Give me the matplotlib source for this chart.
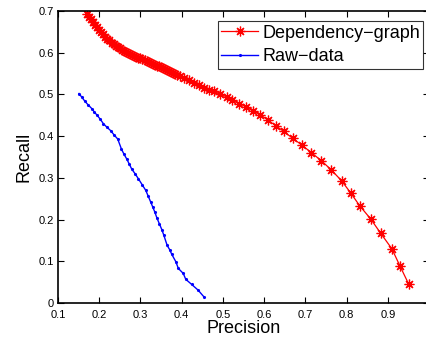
import matplotlib
matplotlib.use("Agg")
import matplotlib.pyplot as plt

# Dependency-graph curve (precision, recall)
dep_precision = [
    0.170, 0.175, 0.180, 0.185, 0.190, 0.195, 0.200, 0.205, 0.210, 0.215,
    0.220, 0.225, 0.230, 0.235, 0.240, 0.245, 0.250, 0.255, 0.260, 0.265,
    0.270, 0.275, 0.280, 0.285, 0.290, 0.295, 0.300, 0.305, 0.310, 0.315,
    0.320, 0.325, 0.330, 0.335, 0.340, 0.345, 0.350, 0.355, 0.360, 0.365,
    0.370, 0.375, 0.380, 0.385, 0.390, 0.395,
    0.405, 0.418, 0.430, 0.442, 0.454, 0.467, 0.479, 0.493, 0.509, 0.523,
    0.540, 0.556, 0.573, 0.591, 0.610, 0.628, 0.648, 0.669, 0.691, 0.715,
    0.739, 0.763, 0.788, 0.810, 0.832, 0.859, 0.883, 0.910, 0.930, 0.951,
]
dep_recall = [
    0.692, 0.686, 0.680, 0.673, 0.667, 0.661, 0.655, 0.649, 0.644, 0.638,
    0.633, 0.629, 0.624, 0.620, 0.616, 0.613, 0.610, 0.607, 0.604, 0.601,
    0.599, 0.596, 0.594, 0.592, 0.590, 0.588, 0.586, 0.584, 0.582, 0.579,
    0.577, 0.575, 0.573, 0.571, 0.569, 0.567, 0.565, 0.562, 0.560, 0.558,
    0.555, 0.553, 0.551, 0.548, 0.546, 0.543,
    0.540, 0.534, 0.528, 0.522, 0.516, 0.511, 0.507, 0.500, 0.494, 0.486,
    0.478, 0.470, 0.461, 0.451, 0.438, 0.425, 0.411, 0.395, 0.379, 0.360,
    0.341, 0.319, 0.293, 0.264, 0.233, 0.201, 0.167, 0.130, 0.088, 0.045,
]

# Raw-data curve (precision, recall)
raw_precision = [
    0.151, 0.158, 0.165, 0.173, 0.182, 0.188, 0.195, 0.203, 0.210, 0.219,
    0.228, 0.236, 0.245, 0.254, 0.260, 0.267, 0.273, 0.279, 0.287, 0.295,
    0.304, 0.313, 0.319, 0.325, 0.330, 0.335, 0.340, 0.346, 0.352, 0.357,
    0.365, 0.371, 0.376, 0.386, 0.392, 0.404, 0.410, 0.424, 0.440, 0.454,
]
raw_recall = [
    0.502, 0.493, 0.484, 0.475, 0.466, 0.458, 0.450, 0.440, 0.430, 0.421,
    0.413, 0.403, 0.393, 0.369, 0.357, 0.345, 0.333, 0.321, 0.310, 0.298,
    0.284, 0.270, 0.256, 0.242, 0.230, 0.218, 0.204, 0.190, 0.176, 0.162,
    0.138, 0.128, 0.117, 0.099, 0.083, 0.071, 0.057, 0.045, 0.031, 0.015,
]

x_ticks = [0.1, 0.2, 0.3, 0.4, 0.5, 0.6, 0.7, 0.8, 0.9, 1.0]
x_ticklabels = ['0.1', '0.2', '0.3', '0.4', '0.5', '0.6', '0.7', '0.8', '0.9', '']
y_ticks = [0, 0.1, 0.2, 0.3, 0.4, 0.5, 0.6, 0.7]
y_ticklabels = ['0', '0.1', '0.2', '0.3', '0.4', '0.5', '0.6', '0.7']

plt.rcParams['font.family'] = ['Liberation Sans', 'DejaVu Sans']

fig = plt.figure(figsize=(4.26, 3.39), dpi=100)
# right edge of the box sits just past the picture, as in the reference
ax = fig.add_axes([0.136, 0.106, 1.007 - 0.136, 0.968 - 0.106])

# matlab style '*' = 8-armed asterisk
ax.plot(dep_precision, dep_recall, '-', marker=(8, 2, 0), color='red',
        linewidth=0.9, markersize=7, markeredgewidth=0.9,
        label='Dependency\u2212graph')
ax.plot(raw_precision, raw_recall, '.-', color='blue', linewidth=1.0,
        markersize=2.5, label='Raw\u2212data')

ax.set_xlim(0.1, 1.0)
ax.set_ylim(0, 0.7)
ax.set_xticks(x_ticks)
ax.set_xticklabels(x_ticklabels)
ax.set_yticks(y_ticks)
ax.set_yticklabels(y_ticklabels)
ax.tick_params(direction='in', top=True, right=True, length=4, width=0.8,
               labelsize=8)
ax.tick_params(axis='x', pad=5)
ax.tick_params(axis='y', pad=3)
for sp in ax.spines.values():
    sp.set_linewidth(1.2)

ax.set_xlabel('Precision', fontsize=13, labelpad=0)
ax.set_ylabel('Recall', fontsize=13, labelpad=4)

leg = ax.legend(loc='upper left', bbox_to_anchor=(0.431, 0.965), fontsize=13,
                frameon=True, fancybox=False, handlelength=2.0,
                borderpad=0.2, labelspacing=0.35, handletextpad=0.25,
                borderaxespad=0)
leg.get_frame().set_edgecolor('black')
leg.get_frame().set_linewidth(0.8)

fig.savefig('out.png', dpi=100)
